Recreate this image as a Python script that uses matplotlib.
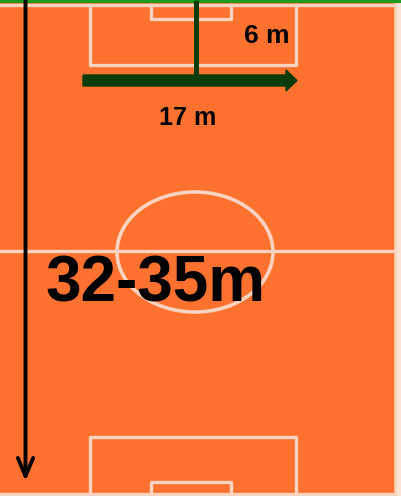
import matplotlib
matplotlib.use("Agg")
import matplotlib.pyplot as plt
from matplotlib.patches import Rectangle, Ellipse, FancyArrow

# Diagram geometry (pixel units of the picture)
W, H = 401, 496
pitch_x = [0, 395]            # left/right touchlines
pitch_y = [5, 494]            # top/bottom goal lines
halfway_y = 251
circle_c = [195, 252]
circle_r = [78, 60]           # horizontal / vertical radii
pen_box_x = [90, 296]
pen_box_depth = 60
goal_box_x = [151, 231]
goal_box_depth = 14

labels = ["6 m", "17 m", "32-35m"]
label_pos = [[244, 43], [159, 125], [45, 302]]
label_size = [19, 18, 46]

ORANGE = "#FE712E"
LINE = "#FAD4C0"
DKGREEN = "#0B3D0B"

fig = plt.figure(figsize=(W / 100, H / 100), dpi=100)
ax = fig.add_axes([0, 0, 1, 1])
ax.set_xlim(0, W)
ax.set_ylim(H, 0)
ax.axis("off")
fig.patch.set_facecolor("#FBE3D4")

# pitch surface
ax.add_patch(Rectangle((0, 0), pitch_x[1], H, facecolor=ORANGE, edgecolor="none", zorder=0))

lw = 2.4
# boundary lines
ax.plot([0, pitch_x[1]], [pitch_y[0], pitch_y[0]], color=LINE, lw=lw, zorder=1)
ax.plot([pitch_x[1], pitch_x[1]], [0, H], color=LINE, lw=1.8, zorder=1)
ax.plot([0, pitch_x[1]], [pitch_y[1], pitch_y[1]], color=LINE, lw=lw, zorder=1)
ax.plot([0, pitch_x[1]], [halfway_y, halfway_y], color=LINE, lw=lw, zorder=1)
ax.add_patch(Ellipse(circle_c, 2 * circle_r[0], 2 * circle_r[1], fill=False,
                     edgecolor=LINE, lw=2.6, zorder=1))

# penalty and goal areas at both ends
for (x0, x1), d in [(pen_box_x, pen_box_depth), (goal_box_x, goal_box_depth)]:
    top = pitch_y[0] + d
    ax.plot([x0, x0, x1, x1], [pitch_y[0], top, top, pitch_y[0]],
            color=LINE, lw=lw, zorder=1)
    bot = H - d - 2 - (1 if d < 20 else 2) * 0
    bot = pitch_y[1] - d + 2 if d < 20 else pitch_y[1] - d + 3
    ax.plot([x0, x0, x1, x1], [H, bot, bot, H], color=LINE, lw=lw, zorder=1)

# top green border
ax.plot([0, W], [0.8, 0.8], color="#1E9A1E", lw=2.2, zorder=3)

# dark green markers
ax.plot([195.5, 195.5], [0, 76], color=DKGREEN, lw=3.6, zorder=3, solid_capstyle="butt")
ax.add_patch(FancyArrow(83, 80.5, 214, 0, width=11, head_width=21, head_length=11,
                        length_includes_head=True, color=DKGREEN, zorder=3))

# long black arrow
ax.annotate("", xy=(25.5, 481), xytext=(25.5, 0),
            arrowprops=dict(arrowstyle="->,head_length=1.3,head_width=0.55",
                            color="black", lw=2.8, shrinkA=0, shrinkB=0), zorder=4)

for t, (x, y), s in zip(labels, label_pos, label_size):
    ax.text(x, y, t, fontsize=s, fontweight="bold", family="Liberation Sans",
            ha="left", va="baseline", color="black", zorder=5)

fig.savefig("out.png", dpi=100, facecolor=fig.get_facecolor())
